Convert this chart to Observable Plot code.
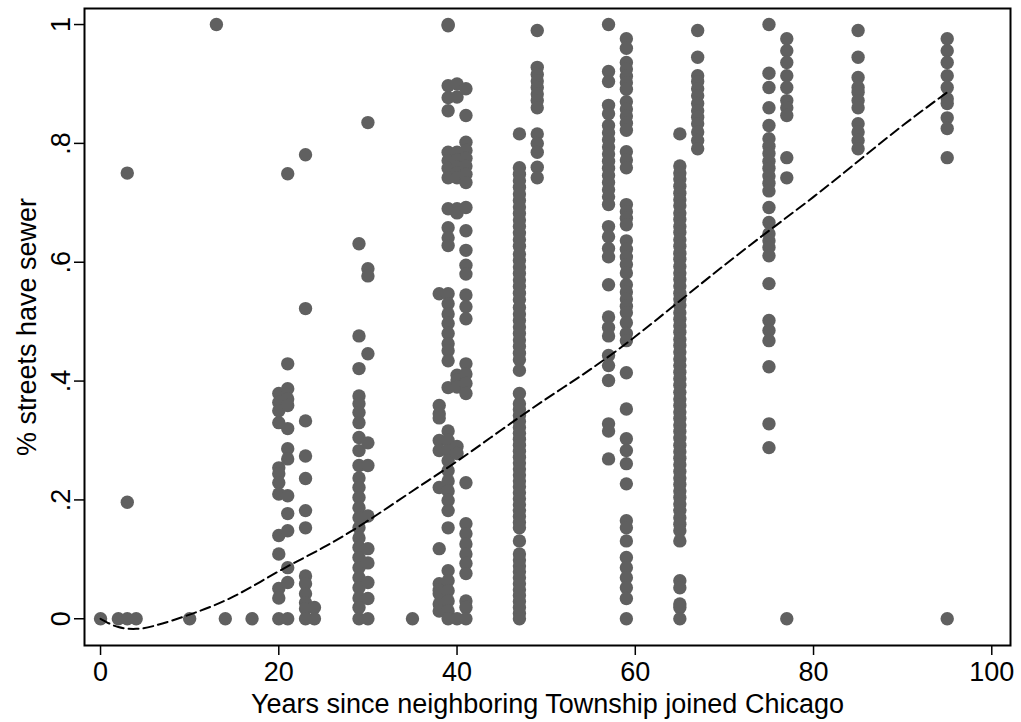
<!DOCTYPE html>
<html>
<head>
<meta charset="utf-8">
<script src="https://cdn.jsdelivr.net/npm/d3@7"></script>
<script src="https://cdn.jsdelivr.net/npm/@observablehq/plot@0.6"></script>
<style>
  html, body { margin: 0; padding: 0; background: #fff; }
  #chart svg { display: block; }
</style>
</head>
<body>
<div id="chart"></div>
<script>
// ---- Data (years since join -> share of streets with sewer) ----
const y0  = [0];
const y2  = [0];
const y3  = [0.75, 0.196, 0];
const y4  = [0];
const y10 = [0];
const y13 = [1.0];
const y14 = [0];
const y17 = [0];
const y20 = [0.379, 0.364, 0.350, 0.330, 0.254, 0.244, 0.229, 0.210, 0.140, 0.109, 0.051, 0.035, 0.0];
const y21 = [0.749, 0.429, 0.387, 0.370, 0.359, 0.320, 0.286, 0.269, 0.207, 0.177, 0.148, 0.086, 0.061, 0.0];
const y23 = [0.781, 0.522, 0.333, 0.274, 0.236, 0.182, 0.153, 0.072, 0.059, 0.042, 0.027, 0.017, 0.0];
const y24 = [0.019, 0.0];
const y29 = [0.631, 0.476, 0.421, 0.375, 0.362, 0.347, 0.330, 0.305, 0.283, 0.258, 0.237, 0.221, 0.204, 0.187, 0.170, 0.153, 0.136, 0.120, 0.103, 0.086, 0.069, 0.052, 0.035, 0.019, 0.0];
const y30 = [0.835, 0.589, 0.577, 0.446, 0.296, 0.258, 0.173, 0.118, 0.094, 0.061, 0.034, 0.0];
const y35 = [0];
const y38 = [0.547, 0.359, 0.345, 0.338, 0.300, 0.283, 0.221, 0.118, 0.059, 0.048, 0.042, 0.025, 0.013];
const y39 = [1.0, 0.998, 0.897, 0.877, 0.855, 0.785, 0.771, 0.758, 0.742, 0.690, 0.658, 0.641, 0.628, 0.547, 0.530, 0.513, 0.497, 0.480, 0.463, 0.451, 0.434, 0.389, 0.316, 0.300, 0.283, 0.266, 0.249, 0.232, 0.215, 0.199, 0.182, 0.153, 0.081, 0.064, 0.047, 0.030, 0.013, 0.0];
const y40 = [0.900, 0.878, 0.785, 0.772, 0.760, 0.750, 0.742, 0.690, 0.683, 0.410, 0.402, 0.390, 0.290, 0.278, 0.0];
const y41 = [0.892, 0.847, 0.802, 0.788, 0.775, 0.762, 0.748, 0.734, 0.692, 0.653, 0.620, 0.595, 0.580, 0.545, 0.525, 0.505, 0.429, 0.412, 0.396, 0.379, 0.229, 0.160, 0.143, 0.126, 0.109, 0.093, 0.076, 0.030, 0.019, 0.0];
const y47 = [0.816, 0.759, 0.748, 0.737, 0.726, 0.715, 0.704, 0.693, 0.682, 0.671, 0.660, 0.649, 0.638, 0.627, 0.614, 0.603, 0.592, 0.581, 0.570, 0.559, 0.548, 0.537, 0.524, 0.513, 0.502, 0.491, 0.480, 0.469, 0.458, 0.447, 0.436, 0.418, 0.379, 0.362, 0.352, 0.342, 0.332, 0.322, 0.312, 0.302, 0.292, 0.282, 0.272, 0.262, 0.252, 0.242, 0.232, 0.222, 0.212, 0.202, 0.192, 0.182, 0.172, 0.162, 0.153, 0.131, 0.109, 0.099, 0.089, 0.079, 0.069, 0.059, 0.049, 0.039, 0.029, 0.019, 0.009, 0.0];
const y49 = [0.990, 0.928, 0.916, 0.905, 0.894, 0.883, 0.872, 0.860, 0.816, 0.800, 0.785, 0.760, 0.742];
const y57 = [1.0, 0.921, 0.904, 0.864, 0.850, 0.830, 0.818, 0.806, 0.794, 0.782, 0.770, 0.758, 0.746, 0.734, 0.722, 0.710, 0.697, 0.660, 0.643, 0.623, 0.609, 0.562, 0.508, 0.490, 0.476, 0.443, 0.426, 0.401, 0.328, 0.316, 0.269];
const y59 = [0.976, 0.960, 0.936, 0.925, 0.913, 0.902, 0.891, 0.870, 0.858, 0.846, 0.834, 0.822, 0.786, 0.772, 0.759, 0.697, 0.685, 0.674, 0.663, 0.636, 0.622, 0.609, 0.596, 0.582, 0.562, 0.550, 0.538, 0.526, 0.515, 0.498, 0.480, 0.468, 0.414, 0.353, 0.303, 0.283, 0.261, 0.227, 0.165, 0.153, 0.131, 0.103, 0.086, 0.069, 0.052, 0.034, 0.0];
const y65 = [0.816, 0.762, 0.750, 0.740, 0.728, 0.716, 0.705, 0.695, 0.683, 0.672, 0.660, 0.650, 0.638, 0.627, 0.615, 0.605, 0.593, 0.582, 0.571, 0.560, 0.548, 0.538, 0.527, 0.515, 0.504, 0.493, 0.482, 0.470, 0.460, 0.449, 0.437, 0.426, 0.415, 0.404, 0.393, 0.381, 0.370, 0.359, 0.348, 0.337, 0.326, 0.315, 0.304, 0.292, 0.281, 0.270, 0.259, 0.248, 0.237, 0.226, 0.215, 0.204, 0.193, 0.182, 0.170, 0.159, 0.148, 0.131, 0.064, 0.052, 0.025, 0.019, 0.0];
const y67 = [0.990, 0.945, 0.914, 0.904, 0.892, 0.880, 0.867, 0.855, 0.844, 0.833, 0.819, 0.805, 0.791];
const y75 = [1.0, 0.918, 0.894, 0.860, 0.830, 0.808, 0.795, 0.783, 0.770, 0.758, 0.745, 0.733, 0.720, 0.692, 0.667, 0.648, 0.636, 0.625, 0.611, 0.564, 0.502, 0.485, 0.468, 0.424, 0.328, 0.288];
const y77 = [0.976, 0.956, 0.936, 0.914, 0.894, 0.872, 0.860, 0.847, 0.776, 0.742, 0.0];
const y85 = [0.990, 0.945, 0.911, 0.894, 0.886, 0.872, 0.860, 0.833, 0.819, 0.805, 0.791];
const y95 = [0.976, 0.956, 0.936, 0.914, 0.894, 0.875, 0.867, 0.843, 0.825, 0.776, 0.0];

const columnYears  = [0, 2, 3, 4, 10, 13, 14, 17, 20, 21, 23, 24, 29, 30, 35, 38, 39, 40, 41, 47, 49, 57, 59, 65, 67, 75, 77, 85, 95];
const columnValues = [y0, y2, y3, y4, y10, y13, y14, y17, y20, y21, y23, y24, y29, y30, y35, y38, y39, y40, y41, y47, y49, y57, y59, y65, y67, y75, y77, y85, y95];

// Fitted (dashed) curve
const fitX = [0, 2, 4, 6, 10, 15, 20, 25, 30, 35, 40, 45, 50, 55, 60, 65, 70, 75, 80, 85, 90, 95];
const fitY = [0, -0.014, -0.017, -0.012, 0.007, 0.038, 0.080, 0.120, 0.165, 0.215, 0.265, 0.318, 0.370, 0.420, 0.475, 0.535, 0.595, 0.653, 0.710, 0.770, 0.830, 0.886];

const xTicks = [0, 20, 40, 60, 80, 100];
const yTicks = [0, 0.2, 0.4, 0.6, 0.8, 1];
const yTickLabels = ["0", ".2", ".4", ".6", ".8", "1"];
const xTitle = "Years since neighboring Township joined Chicago";
const yTitle = "% streets have sewer";

// ---- Build tables ----
const points = columnYears.flatMap((yr, i) => columnValues[i].map(v => ({year: yr, share: v})));
const fit = fitX.map((x, i) => ({year: x, share: fitY[i]}));

const chart = Plot.plot({
  width: 1021,
  height: 722,
  marginLeft: 84,
  marginRight: 11,
  marginTop: 8,
  marginBottom: 77,
  x: {domain: [-1.8, 102.1]},
  y: {domain: [-0.045, 1.027]},
  style: {fontFamily: "'Liberation Sans', Arial, Helvetica, sans-serif", fontSize: "27px", color: "#000", background: "#fff"},
  marks: [
    Plot.dot(points, {x: "year", y: "share", r: 6.7, fill: "#606060", stroke: "none"}),
    Plot.line(fit, {x: "year", y: "share", stroke: "#000", strokeWidth: 2, strokeDasharray: "10,5", curve: "natural"}),
    Plot.frame({stroke: "#000", strokeWidth: 2}),
    Plot.axisX({ticks: xTicks, tickSize: 10, tickPadding: 6, tickFormat: d => String(d), fontSize: 27,
      strokeWidth: 1.5, label: xTitle, labelAnchor: "center", labelArrow: "none", labelOffset: 67}),
    Plot.axisY({ticks: yTicks, tickSize: 10, tickPadding: 5, tickRotate: -90,
      tickFormat: d => yTickLabels[yTicks.indexOf(d)], fontSize: 27,
      strokeWidth: 1.5, label: yTitle, labelAnchor: "center", labelArrow: "none", labelOffset: 68})
  ]
});
document.getElementById("chart").append(chart);
</script>
</body>
</html>
